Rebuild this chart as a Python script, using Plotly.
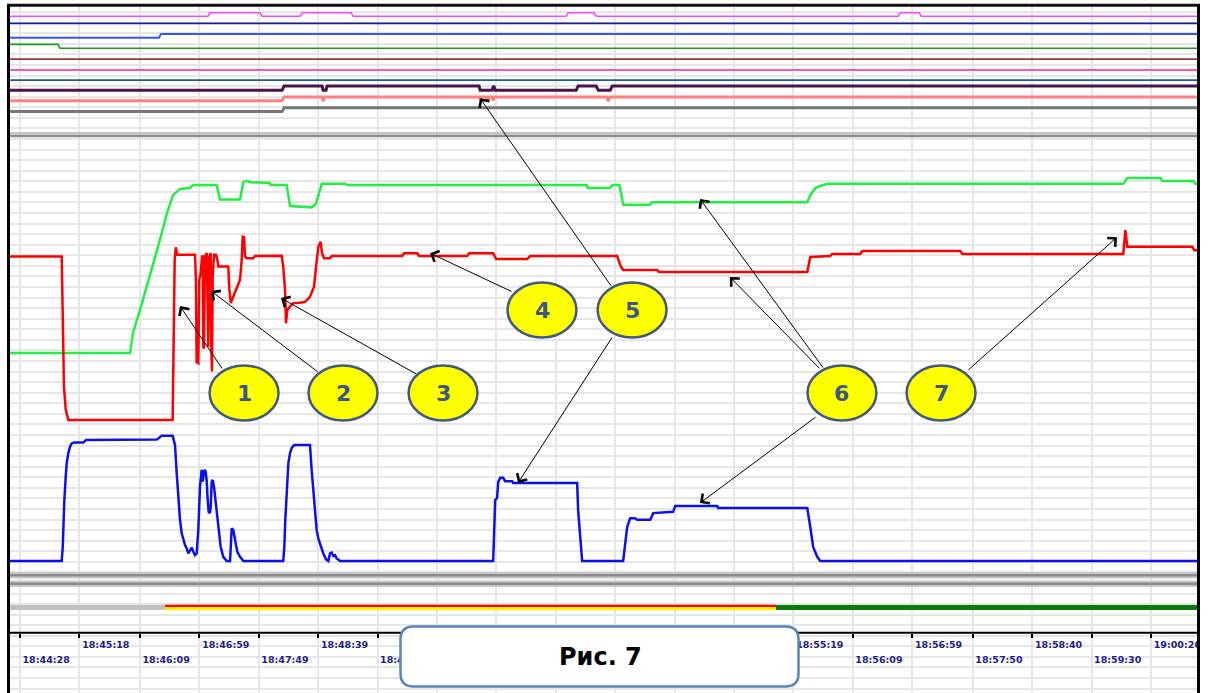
import plotly.graph_objects as go

W, H = 1208, 693

# ---------------- data ----------------
tick_labels = ["18:44:28", "18:45:18", "18:46:09", "18:46:59", "18:47:49", "18:48:39",
               "18:49:29", "18:50:19", "18:51:09", "18:51:59", "18:52:49", "18:53:39",
               "18:54:29", "18:55:19", "18:56:09", "18:56:59", "18:57:50", "18:58:40",
               "18:59:30", "19:00:20"]

# time in seconds after 18:44:28, values in relative units
green_t = [-9.3, 92.6, 95.1, 101.0, 115.4, 123.8, 128.8, 134.7, 143.1, 145.7,
           165.5, 168.4, 185.2, 188.0, 190.8, 194.2, 210.4, 211.0, 224.5, 227.3,
           245.5, 249.2, 254.0, 273.6, 275.3, 477.0, 478.0, 496.5, 498.8, 504.6,
           507.8, 530.3, 531.7, 662.7, 665.2, 669.4, 673.6, 679.5, 928.7, 932.1,
           959.9, 961.6, 987.7, 989.4, 991.0]
green_v = [49.5, 49.5, 54.3, 59.8, 74.0, 82.9, 87.1, 88.6, 88.8, 89.5,
           89.5, 86.1, 86.1, 90.2, 90.5, 90.2, 90.0, 89.5, 89.5, 84.5,
           84.2, 85.1, 89.8, 89.8, 89.5, 89.5, 88.8, 88.8, 89.5, 89.5,
           84.8, 84.8, 85.4, 85.4, 87.1, 88.8, 89.3, 89.8, 89.8, 91.2,
           91.2, 90.5, 90.5, 89.8, 89.8]

red_t = [-9.3, 35.1, 35.9, 36.4, 37.0, 38.5, 40.7, 128.5, 129.0, 129.6,
         130.2, 131.1, 132.4, 147.3, 148.1, 148.7, 150.1, 150.9, 152.1, 153.2,
         153.8, 154.3, 154.9, 155.7, 157.2, 157.7, 158.5, 159.3, 160.5, 161.0,
         161.6, 162.2, 163.3, 165.0, 166.1, 166.9, 175.3, 176.2, 177.4, 179.5,
         182.4, 185.2, 186.6, 187.5, 188.6, 189.4, 190.8, 196.4, 197.8, 220.3,
         221.6, 223.1, 223.9, 225.0, 227.3, 230.0, 235.7, 239.9, 244.1, 247.5,
         249.2, 251.1, 253.1, 254.2, 255.9, 260.9, 262.3, 321.6, 323.3, 334.3,
         336.0, 376.4, 378.1, 398.3, 400.8, 426.9, 429.4, 502.7, 505.2, 507.7,
         536.4, 538.0, 662.7, 664.3, 665.2, 682.0, 683.7, 707.3, 709.0, 791.5,
         793.2, 928.7, 930.4, 932.1, 986.8, 988.5, 991.0]
red_v = [72.5, 72.5, 59.8, 47.9, 41.5, 36.0, 33.6, 33.6, 48.7, 62.1,
         71.7, 74.7, 72.9, 72.9, 66.9, 47.3, 47.1, 66.9, 68.5, 72.5,
         72.5, 51.0, 50.6, 72.5, 73.3, 65.4, 51.0, 72.5, 73.3, 51.0,
         45.1, 67.7, 72.9, 72.9, 71.7, 70.1, 70.1, 64.9, 61.4, 62.9,
         64.9, 66.9, 71.7, 77.2, 77.1, 72.5, 72.1, 72.1, 72.6, 72.7,
         70.1, 64.5, 56.6, 59.8, 60.6, 61.4, 61.5, 61.7, 62.9, 65.3,
         70.1, 74.8, 76.0, 73.3, 72.1, 72.1, 72.6, 72.6, 73.3, 73.3,
         72.6, 72.6, 73.3, 73.3, 71.9, 71.9, 72.6, 72.6, 70.5, 69.3,
         69.3, 68.8, 68.8, 71.2, 72.4, 72.6, 73.1, 73.1, 73.8, 73.8,
         73.1, 73.1, 78.8, 74.8, 74.8, 74.0, 74.0]

blue_t = [-9.3, 35.1, 36.0, 36.5, 37.3, 38.5, 39.3, 40.7, 42.1, 43.5,
          45.5, 53.3, 55.6, 115.1, 117.8, 119.2, 128.5, 130.5, 131.9, 133.2,
          134.7, 136.1, 137.5, 138.9, 140.3, 141.7, 143.1, 144.5, 145.9, 147.3,
          148.7, 150.1, 151.5, 152.4, 152.9, 153.8, 154.3, 155.1, 156.3, 157.2,
          158.0, 158.8, 159.9, 160.5, 161.4, 162.2, 163.3, 165.0, 166.9, 168.9,
          171.1, 174.0, 176.8, 178.2, 179.5, 181.0, 182.9, 185.2, 188.0, 221.6,
          222.5, 223.3, 224.5, 225.9, 227.3, 228.7, 230.6, 244.1, 245.5, 246.9,
          248.3, 249.7, 251.1, 253.1, 255.3, 257.6, 259.5, 261.0, 262.4, 263.8,
          265.2, 266.6, 269.4, 398.3, 400.0, 401.6, 402.5, 404.2, 406.7, 408.4,
          414.3, 415.1, 469.0, 469.8, 471.5, 473.2, 507.7, 511.1, 513.6, 517.8,
          519.5, 530.5, 533.0, 549.8, 551.5, 586.9, 587.7, 662.7, 665.2, 667.7,
          671.1, 673.6, 991.0]
blue_v = [0, 0, 3.4, 8.0, 14.3, 20.1, 23.3, 25.7, 27.2, 28.0,
          28.2, 28.2, 28.8, 28.9, 29.4, 29.8, 29.8, 27.6, 20.9, 15.3,
          9.8, 6.6, 5.0, 3.8, 3.0, 1.8, 2.5, 3.2, 2.2, 1.4,
          1.8, 7.4, 17.7, 20.9, 21.7, 18.9, 20.5, 21.7, 21.3, 18.9,
          14.5, 11.7, 11.4, 12.9, 18.9, 19.3, 17.7, 12.9, 7.4, 3.4,
          1.0, 0, 0, 7.8, 7.4, 5.0, 2.2, 1.0, 0, 0,
          3.4, 9.8, 17.7, 23.3, 25.7, 26.9, 27.6, 27.6, 21.7, 16.1,
          11.4, 7.4, 5.4, 3.4, 1.8, 0.4, 0, 1.8, 2.0, 1.2,
          1.4, 0.6, 0, 0, 14.5, 15.0, 18.8, 19.8, 19.8, 19.0,
          19.0, 18.6, 18.6, 12.1, 5.7, 0, 0, 8.1, 10.2, 10.2,
          9.8, 9.8, 11.4, 11.7, 13.1, 13.1, 12.6, 12.6, 8.1, 3.3,
          1.0, 0, 0]

# upper strip of discrete channels
magenta_t = [-9.3, 158.3, 160.0, 202.1, 203.8, 235.7, 237.4, 278.7, 280.4, 459.7,
             461.4, 483.3, 485.0, 739.3, 741.0, 756.9, 758.6, 991.0]
magenta_v = [129.7, 129.7, 130.55, 130.55, 129.7, 129.7, 130.55, 130.55, 129.7, 129.7,
             130.55, 130.55, 129.7, 129.7, 130.55, 130.55, 129.7, 129.7]
navy_t = [-9.3, 991.0]
navy_v = [128.0, 128.0]
blue2_t = [-9.3, 117.0, 118.7, 991.0]
blue2_v = [124.6, 124.6, 125.5, 125.5]
green2_t = [-9.3, 32.0, 33.7, 991.0]
green2_v = [123.0, 123.0, 122.1, 122.1]
maroon_t = [-9.3, 991.0]
maroon_v = [119.5, 119.5]
pink_t = [-9.3, 991.0]
pink_v = [116.9, 116.9]
steel_t = [-9.3, 991.0]
steel_v = [114.5, 114.5]
purple_t = [-9.3, 220.6, 222.3, 254.3, 255.1, 257.6, 258.5, 386.4, 387.3, 397.4,
            398.3, 399.1, 400.0, 468.2, 469.8, 485.0, 486.7, 496.8, 498.5, 991.0]
purple_v = [112.1, 112.1, 113.1, 113.1, 112.1, 112.1, 113.1, 113.1, 112.1, 112.1,
            112.9, 112.9, 112.1, 112.1, 113.1, 113.1, 112.1, 112.1, 113.1, 113.1]
salmon_t = [-9.3, 220.6, 222.3, 254.3, 255.1, 256.8, 386.4, 387.3, 388.1, 393.2,
            394.0, 394.9, 397.4, 398.3, 399.1, 493.8, 495.1, 496.8, 991.0]
salmon_v = [109.6, 109.6, 110.5, 110.5, 109.5, 110.5, 110.5, 109.8, 110.5, 110.5,
            109.6, 110.5, 110.5, 109.6, 110.5, 110.5, 109.5, 110.5, 110.5]
gray_t = [-9.3, 220.6, 222.3, 991.0]
gray_v = [107.0, 107.0, 107.9, 107.9]

# status lane: state change times
status_t = [-9.3, 122.1, 636.4, 991.0]
status_lane = -11.07

# callouts: number, centre (t, v)
callout_num = ["1", "2", "3", "4", "5", "6", "7"]
callout_t = [188.6, 271.9, 356.1, 439.4, 515.2, 691.9, 775.3]
callout_v = [40.0, 40.0, 40.0, 59.76, 59.76, 40.0, 40.0]
# arrows: tail (t, v) -> head (t, v)
arrow_tail_t = [170.9, 251.7, 335.0, 415.0, 498.3, 499.2, 676.8, 674.2, 670.9, 797.1]
arrow_tail_v = [45.5, 44.8, 44.3, 64.0, 65.2, 53.6, 45.7, 45.5, 34.5, 45.2]
arrow_head_t = [134.7, 160.8, 219.7, 345.1, 387.2, 419.2, 572.4, 597.6, 572.4, 923.4]
arrow_head_v = [60.7, 64.3, 62.6, 73.3, 110.2, 18.6, 86.2, 67.6, 13.8, 77.1]

caption = "Рис. 7"

# ---------------- helpers ----------------
def secs(s):
    h, m, x = map(int, s.split(":"))
    return h * 3600 + m * 60 + x

t0 = secs(tick_labels[0])
tick_t = [secs(s) - t0 for s in tick_labels]

PXS = 1.188          # pixels per second
X0 = 20              # pixel of first tick
x_range = [-X0 / PXS, (W - X0) / PXS]
YPX = 4.2            # pixels per unit
Y0 = 561             # pixel of value 0
y_range = [-(H - Y0) / YPX, Y0 / YPX]

def fx(px):
    return px / W

def fy(py):
    return 1 - py / H

fig = go.Figure()

def line(t, v, color, width, axis="x"):
    fig.add_trace(go.Scatter(x=t, y=v, mode="lines", xaxis=axis, yaxis="y",
                             line=dict(color=color, width=width, shape="linear"),
                             hoverinfo="skip", showlegend=False))

line(magenta_t, magenta_v, "#ff44ff", 1.6)
line(navy_t, navy_v, "#1a1aa0", 1.6)
line(blue2_t, blue2_v, "#3355ff", 2)
line(green2_t, green2_v, "#1f9a1f", 1.6)
line(maroon_t, maroon_v, "#9a3a3a", 1.6)
line(pink_t, pink_v, "#ff55aa", 2)
line(steel_t, steel_v, "#1f5a99", 1.6)
line(purple_t, purple_v, "#4a1448", 3)
line(salmon_t, salmon_v, "#ff8080", 3)
line(gray_t, gray_v, "#777777", 3)

line(green_t, green_v, "#22ee44", 2.5)
line(red_t, red_v, "#ff0000", 2.5)
line(blue_t, blue_v, "#0a10ee", 2.5)

# status lane
line(status_t[0:2], [status_lane] * 2, "#c0c0c0", 5, "x2")
line(status_t[1:3], [status_lane - 0.25] * 2, "#ffee00", 3.5, "x2")
line(status_t[1:3], [status_lane + 0.4] * 2, "#ff0000", 2.2, "x2")
line(status_t[2:4], [status_lane] * 2, "#0a7a0a", 5, "x2")
fig.add_trace(go.Scatter(x=[], y=[], xaxis="x3", yaxis="y", showlegend=False))

# ---------------- shapes ----------------
shapes = []

def hline(py, x0, x1, color, width):
    shapes.append(dict(type="line", xref="paper", yref="paper", x0=fx(x0), x1=fx(x1),
                       y0=fy(py), y1=fy(py), line=dict(color=color, width=width), layer="above"))

def vline(px, y0, y1, color, width):
    shapes.append(dict(type="line", xref="paper", yref="paper", x0=fx(px), x1=fx(px),
                       y0=fy(y0), y1=fy(y1), line=dict(color=color, width=width), layer="above"))

def rect(x0, y0, x1, y1, color):
    shapes.append(dict(type="rect", xref="paper", yref="paper", x0=fx(x0), x1=fx(x1),
                       y0=fy(y1), y1=fy(y0), fillcolor=color, line=dict(width=0), layer="above"))

# white outside frame
rect(0, 0, 7, H, "white")
rect(1200, 0, W, H, "white")
rect(0, 0, W, 3.5, "white")

# separators
hline(133.3, 8, 1198, "#c4c4c4", 2.6)
hline(136.0, 8, 1198, "#8c8c8c", 2.6)
for c in (575.2, 583.7):
    rect(8, c - 3.2, 1198, c + 3.2, "#c8c8c8")
    hline(c, 8, 1198, "#8a8a8a", 2.4)

# axis line
hline(632.7, 8, 1198, "black", 2)

# frame
hline(5.2, 7, 1200, "#111111", 3)
vline(8.5, 4, H, "black", 3)
vline(1198.5, 4, H, "black", 3)

# callout circles
for t, v in zip(callout_t, callout_v):
    shapes.append(dict(type="circle", xref="x", yref="y",
                       x0=t - 29.0, x1=t + 29.0, y0=v - 6.55, y1=v + 6.55,
                       fillcolor="#ffff00", line=dict(color="#41597f", width=2.5), layer="above"))

# caption box (rounded)
bx0, bx1, by0, by1, r = 400.5, 798.5, 626.5, 686.5, 13
p = (f"M {fx(bx0 + r)},{fy(by0)} L {fx(bx1 - r)},{fy(by0)} "
     f"Q {fx(bx1)},{fy(by0)} {fx(bx1)},{fy(by0 + r)} "
     f"L {fx(bx1)},{fy(by1 - r)} Q {fx(bx1)},{fy(by1)} {fx(bx1 - r)},{fy(by1)} "
     f"L {fx(bx0 + r)},{fy(by1)} Q {fx(bx0)},{fy(by1)} {fx(bx0)},{fy(by1 - r)} "
     f"L {fx(bx0)},{fy(by0 + r)} Q {fx(bx0)},{fy(by0)} {fx(bx0 + r)},{fy(by0)} Z")
shapes.append(dict(type="path", xref="paper", yref="paper", path=p, fillcolor="white",
                   line=dict(color="#5a84bd", width=2.5), layer="above"))

# ---------------- annotations ----------------
ann = []
for n, t, v in zip(callout_num, callout_t, callout_v):
    ann.append(dict(x=t, y=v, xref="x", yref="y", text=f"<b>{n}</b>", showarrow=False,
                    xanchor="center", yanchor="middle",
                    font=dict(family="DejaVu Sans", size=22, color="#3c5688")))
for tt, tv, ht, hv in zip(arrow_tail_t, arrow_tail_v, arrow_head_t, arrow_head_v):
    ann.append(dict(x=ht, y=hv, ax=tt, ay=tv, xref="x", yref="y", axref="x", ayref="y",
                    text="", showarrow=True, arrowhead=4, arrowsize=2.3, arrowwidth=1,
                    arrowcolor="black", standoff=0, startstandoff=0))
ann.append(dict(x=fx(600), y=fy(657), xref="paper", yref="paper", text=f"<b>{caption}</b>",
                showarrow=False, xanchor="center", yanchor="middle",
                font=dict(family="DejaVu Sans", size=24, color="black")))

tickfont = dict(family="DejaVu Sans", size=9.5, color="#1c1c88", weight="bold")
odd_text = [s if k % 2 == 1 else "" for k, s in enumerate(tick_labels)]
even_vals = [t for k, t in enumerate(tick_t) if k % 2 == 0]
even_text = [s for k, s in enumerate(tick_labels) if k % 2 == 0]

fig.update_layout(
    width=W, height=H, margin=dict(l=0, r=0, t=0, b=0),
    paper_bgcolor="white", plot_bgcolor="white", showlegend=False,
    xaxis=dict(range=x_range, domain=[0, 1], tickmode="array", tickvals=tick_t,
               showticklabels=False, ticks="", showgrid=True, gridcolor="#e6e6e6",
               gridwidth=2, zeroline=False, showline=False, fixedrange=True),
    xaxis2=dict(range=x_range, overlaying="x", anchor="free", position=fy(632.7),
                side="bottom", tickmode="array", tickvals=tick_t, ticktext=odd_text,
                ticks="outside", ticklen=4, tickwidth=1.5, tickcolor="black",
                ticklabelposition="outside right", ticklabelshift=2, ticklabelstandoff=3,
                tickfont=tickfont, showgrid=False, zeroline=False, showline=False),
    xaxis3=dict(range=x_range, overlaying="x", anchor="free", position=fy(647.7),
                side="bottom", tickmode="array", tickvals=even_vals, ticktext=even_text,
                ticks="outside", ticklen=4, tickcolor="rgba(0,0,0,0)",
                ticklabelposition="outside right", ticklabelshift=2, ticklabelstandoff=3,
                tickfont=tickfont, showgrid=False, zeroline=False, showline=False),
    yaxis=dict(range=y_range, domain=[0, 1], showticklabels=False, ticks="",
               tick0=(Y0 - 170.7) / YPX, dtick=10.57 / YPX, showgrid=True,
               gridcolor="#e6e6e6", gridwidth=1.5, zeroline=False, showline=False),
    shapes=shapes, annotations=ann,
)

fig.write_html("out.html", config={"displayModeBar": False},
               post_script="document.body.style.margin='0';document.body.style.overflow='hidden';")
